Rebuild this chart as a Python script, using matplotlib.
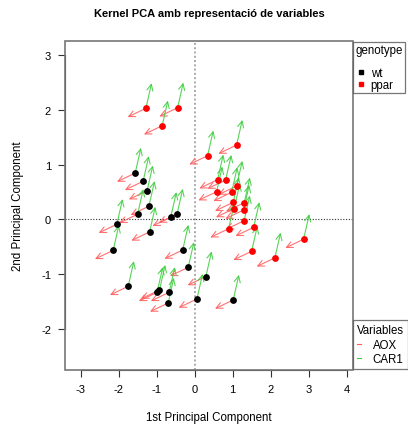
import matplotlib
matplotlib.use("Agg")
import matplotlib.pyplot as plt
from matplotlib.patches import Rectangle
from matplotlib.lines import Line2D

plt.rcParams['font.family'] = ['Liberation Sans', 'DejaVu Sans']
plt.rcParams['axes.unicode_minus'] = False

# ---- data ----
wt_x = [-1.563, -1.355, -1.25, -1.203, -1.5, -2.045, -0.629, -0.461, -1.184, -2.142,
        -0.313, -0.168, 0.297, -1.747, -0.924, -0.987, -0.671, -0.695, 0.061, 1.016]
wt_y = [0.846, 0.695, 0.523, 0.239, 0.093, -0.090, 0.038, 0.097, -0.230, -0.567,
        -0.561, -0.878, -1.046, -1.225, -1.293, -1.335, -1.335, -1.530, -1.457, -1.475]
ppar_x = [0.342, 1.105, 0.605, 0.816, 1.105, 0.579, 0.974, 1.016, 1.305, 1.042,
          1.289, 1.303, 0.895, 1.555, 1.5, 2.113, 2.868, -1.282, -0.447, -0.853]
ppar_y = [1.163, 1.358, 0.724, 0.718, 0.609, 0.505, 0.494, 0.311, 0.303, 0.197,
          0.170, -0.026, -0.172, -0.146, -0.585, -0.704, -0.364, 2.029, 2.040, 1.711]
# variable directions (AOX, CAR1) drawn from every sample
var_names = ['AOX', 'CAR1']
var_dx = [-0.48, 0.15]
var_dy = [-0.16, 0.46]
var_colors = ['#ff5a5a', '#3ccc3c']
geno_names = ['wt', 'ppar']
geno_colors = ['black', '#ff0000']
xticks = [-3, -2, -1, 0, 1, 2, 3, 4]
yticks = [-2, -1, 0, 1, 2, 3]

fig = plt.figure(figsize=(4.08, 4.27), dpi=100)
ax = fig.add_axes([65/408, 1-370.7/427, (352.7-65)/408, (370.7-42)/427])
ax.set_xlim(-3.41, 4.16)
ax.set_ylim(-2.75, 3.26)

ax.axvline(0, color='#aaaaaa', lw=1.4, ls=(0, (1, 1.2)), zorder=1)
ax.axhline(0, color='#333333', lw=0.8, ls=(0, (1, 1.5)), zorder=1)

all_x = wt_x + ppar_x
all_y = wt_y + ppar_y
for xx, yy in zip(all_x, all_y):
    for dx, dy, c in zip(var_dx, var_dy, var_colors):
        ax.annotate('', xy=(xx + dx, yy + dy), xytext=(xx, yy),
                    arrowprops=dict(arrowstyle='->,head_length=0.45,head_width=0.22',
                                    color=c, lw=0.8, alpha=0.85,
                                    shrinkA=0, shrinkB=0), zorder=2)

ax.scatter(wt_x, wt_y, s=24, color=geno_colors[0], zorder=3, linewidths=0)
ax.scatter(ppar_x, ppar_y, s=24, color=geno_colors[1], zorder=3, linewidths=0)

ax.set_xticks(xticks)
ax.set_yticks(yticks)
ax.tick_params(direction='out', length=5, width=0.8, labelsize=8, pad=5, color='#333333')

for s in ['top', 'right', 'left', 'bottom']:
    ax.spines[s].set_visible(False)
ax.add_patch(Rectangle((0, 0), 1, 1, transform=ax.transAxes, fill=False,
                       ec='#777777', lw=1.2, clip_on=False, zorder=5))
ax.spines['left'].set_visible(True)
ax.spines['bottom'].set_visible(True)
ax.spines['left'].set_bounds(-2, 3)
ax.spines['bottom'].set_bounds(-3, 4)
ax.spines['left'].set_color('#333333')
ax.spines['bottom'].set_color('#333333')

ax.set_xlabel('1st Principal Component', fontsize=8.3)
ax.set_ylabel('2nd Principal Component', fontsize=8.3)
ax.xaxis.set_label_coords(0.5, -0.144)
ax.xaxis.label.set_va('center')
ax.yaxis.set_label_coords(-0.163, 0.5)
ax.yaxis.label.set_va('center')

fig.text(208.9/408, 1-14/427, 'Kernel PCA amb representació de variables',
         ha='center', va='center', fontsize=8, fontweight='bold')

# legends
h1 = [Line2D([], [], ls='', marker='s', ms=3.5, color=c) for c in geno_colors]
leg1 = ax.legend(h1, geno_names, title='genotype\n', loc='upper left',
                 bbox_to_anchor=(1.0, 1.0), borderaxespad=0.05, fontsize=8.3,
                 title_fontsize=8.3, frameon=True, fancybox=False,
                 handlelength=0.9, handletextpad=0.4, labelspacing=0.02,
                 borderpad=0.2, alignment='left')
leg1.get_title().set_linespacing(0.85)
leg1.get_frame().set_edgecolor('#555555')
leg1.get_frame().set_linewidth(0.9)
ax.add_artist(leg1)

h2 = [Line2D([], [], color=c, lw=0.8) for c in var_colors]
leg2 = ax.legend(h2, var_names, title='Variables', loc='lower left',
                 bbox_to_anchor=(1.0, 0.0), borderaxespad=0.05, fontsize=8.3,
                 title_fontsize=8.3, frameon=True, fancybox=False,
                 handlelength=0.35, handletextpad=1.0, labelspacing=0.2,
                 borderpad=0.35, alignment='left')
leg2.get_frame().set_edgecolor('#555555')
leg2.get_frame().set_linewidth(0.9)

fig.savefig('out.png', dpi=100)
